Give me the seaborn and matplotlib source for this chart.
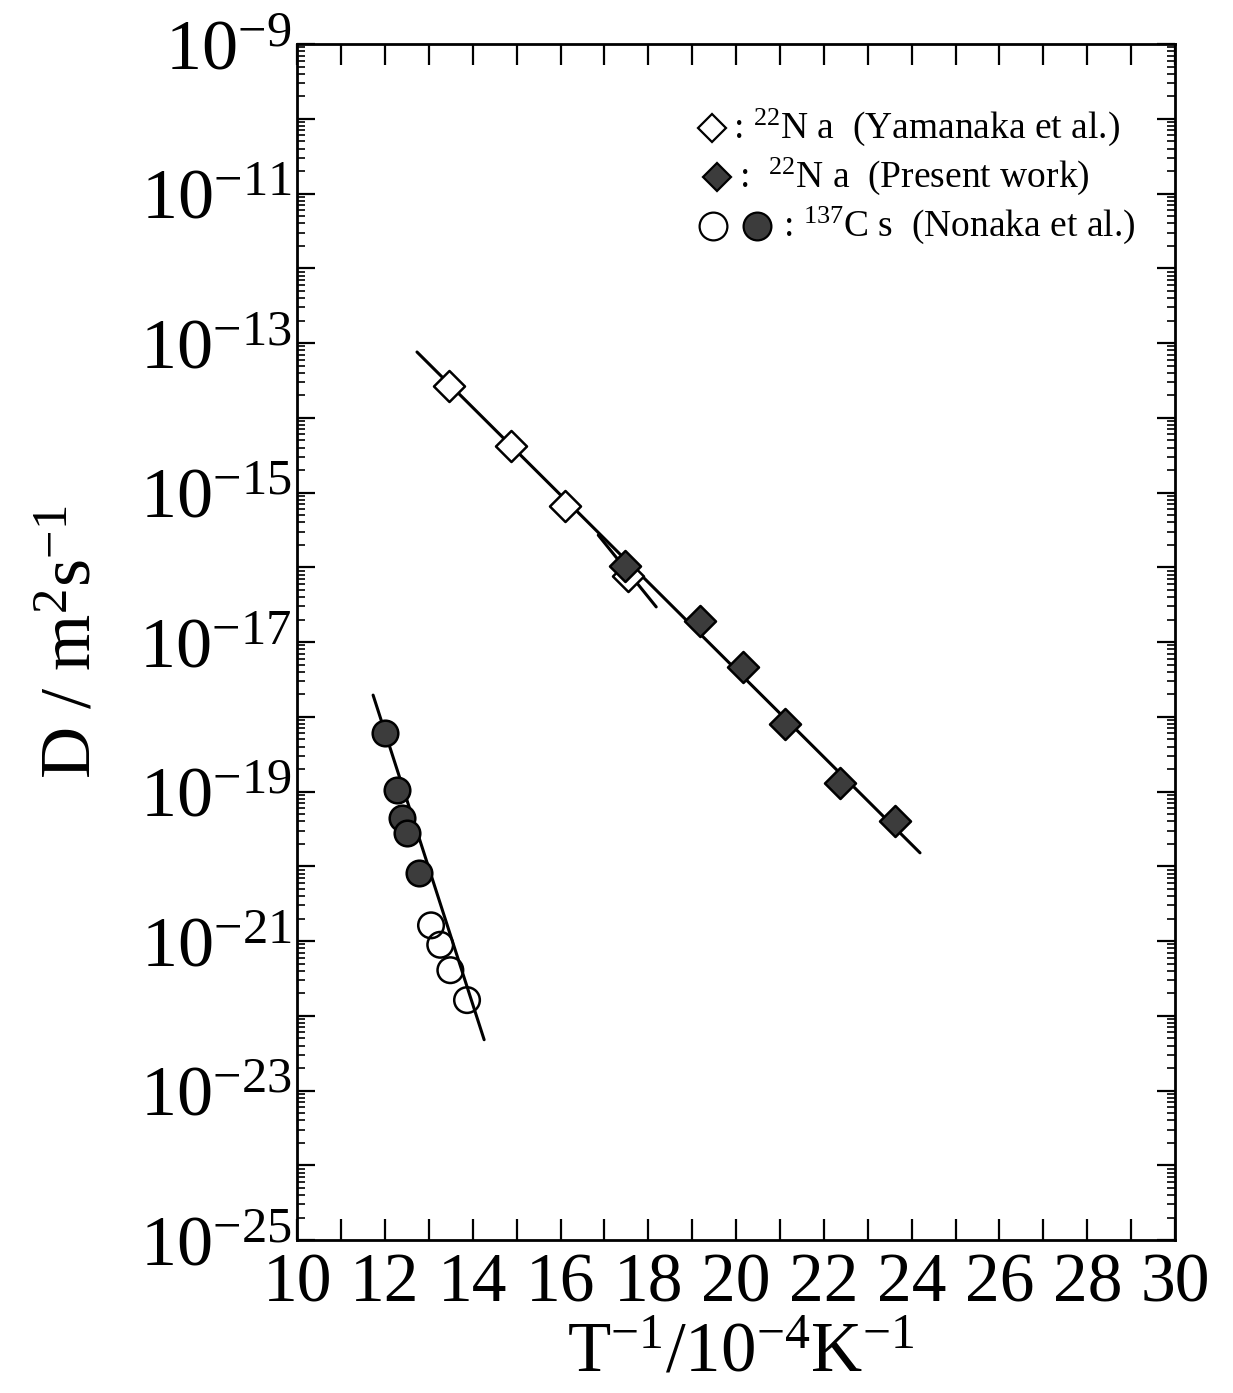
import numpy as np
import pandas as pd
import matplotlib
matplotlib.use("Agg")
import matplotlib.pyplot as plt
import seaborn as sns
from matplotlib.ticker import FixedLocator, FuncFormatter, LogLocator, NullFormatter, MultipleLocator

# ---- data ----
na_yam_x = [13.46, 14.87, 16.10, 17.54]
na_yam_logD = [-13.58, -14.38, -15.18, -16.12]
na_pres_x = [17.47, 19.18, 20.16, 21.12, 22.37, 23.62]
na_pres_logD = [-15.98, -16.72, -17.33, -18.10, -18.89, -19.39]
cs_fill_x = [12.00, 12.28, 12.39, 12.51, 12.78]
cs_fill_logD = [-18.22, -18.98, -19.35, -19.56, -20.09]
cs_open_x = [13.05, 13.26, 13.49, 13.87]
cs_open_logD = [-20.79, -21.05, -21.39, -21.79]
fit_na_x = [12.73, 24.19]
fit_na_logD = [-13.12, -19.82]
fit_na_short_x = [16.86, 18.18]
fit_na_short_logD = [-15.57, -16.53]
fit_cs_x = [11.73, 14.26]
fit_cs_logD = [-17.71, -22.32]

x_ticks = list(range(10, 31, 2))
y_decades = list(range(-25, -8))
legend_labels = [r": $^{22}$N a  (Yamanaka et al.)",
                 r":  $^{22}$N a  (Present work)",
                 r": $^{137}$C s  (Nonaka et al.)"]

sns.set_style("ticks")
plt.rcParams["font.family"] = ["Liberation Serif", "DejaVu Serif"]
plt.rcParams["mathtext.fontset"] = "custom"
plt.rcParams["mathtext.rm"] = "Liberation Serif"
plt.rcParams["mathtext.it"] = "Liberation Serif:italic"
plt.rcParams["mathtext.bf"] = "Liberation Serif:bold"
for k in ["text.color", "axes.labelcolor", "xtick.color", "ytick.color", "axes.edgecolor"]:
    plt.rcParams[k] = "black"

fig = plt.figure(figsize=(12.33, 13.93), dpi=100)
ax = fig.add_axes([0.241, 0.1098, 0.712, 0.8586])

def dfm(x, logd):
    return pd.DataFrame({"x": x, "D": np.power(10.0, np.array(logd))})

lw = 2.2
for fx, fy in [(fit_na_x, fit_na_logD), (fit_na_short_x, fit_na_short_logD), (fit_cs_x, fit_cs_logD)]:
    sns.lineplot(data=dfm(fx, fy), x="x", y="D", ax=ax, color="black", linewidth=lw,
                 legend=False, zorder=2)

fill_c = "#3c3c3c"
sns.scatterplot(data=dfm(na_yam_x, na_yam_logD), x="x", y="D", ax=ax, marker="D", s=250,
                facecolor="white", edgecolor="black", linewidth=1.8, zorder=3, legend=False)
sns.scatterplot(data=dfm(na_pres_x, na_pres_logD), x="x", y="D", ax=ax, marker="D", s=250,
                facecolor=fill_c, edgecolor="black", linewidth=1.8, zorder=4, legend=False)
sns.scatterplot(data=dfm(cs_fill_x, cs_fill_logD), x="x", y="D", ax=ax, marker="o", s=340,
                facecolor=fill_c, edgecolor="black", linewidth=1.8, zorder=4, legend=False)
sns.scatterplot(data=dfm(cs_open_x, cs_open_logD), x="x", y="D", ax=ax, marker="o", s=340,
                facecolor="none", edgecolor="black", linewidth=1.8, zorder=4, legend=False)

ax.set_yscale("log")
ax.set_xlim(10, 30)
ax.set_ylim(1e-25, 1e-9)

ax.xaxis.set_major_locator(FixedLocator(x_ticks))
ax.xaxis.set_minor_locator(MultipleLocator(1))
ax.set_xticklabels([str(t) for t in x_ticks])
ax.yaxis.set_major_locator(FixedLocator([10.0 ** e for e in y_decades]))
ax.yaxis.set_major_formatter(FuncFormatter(
    lambda v, p: (r"$10^{%d}$" % int(round(np.log10(v)))) if int(round(np.log10(v))) % 2 != 0 else ""))
ax.yaxis.set_minor_locator(LogLocator(base=10, subs=np.arange(2, 10), numticks=100))
ax.yaxis.set_minor_formatter(NullFormatter())

ax.tick_params(axis="x", which="both", direction="in", top=True, bottom=True,
               length=15, width=1.6, labelsize=50, pad=9)
ax.tick_params(axis="y", which="major", direction="in", left=True, right=True,
               length=13, width=1.6, labelsize=52, pad=4)
ax.tick_params(axis="y", which="minor", direction="in", left=True, right=True,
               length=6, width=1.2)
for sp in ax.spines.values():
    sp.set_linewidth(2.0)
    sp.set_color("black")

ax.set_xlabel(r"T$^{-1}$/10$^{-4}$K$^{-1}$", fontsize=51)
ax.xaxis.set_label_coords(0.505, -0.068)
ax.set_ylabel(r"D / m$^{2}$s$^{-1}$", fontsize=52)
ax.yaxis.set_label_coords(-0.218, 0.50)

# ---- legend (symbol key, placed in axes fractions) ----
tr = ax.transAxes
key_fs = 27
rows_y = [0.930, 0.889, 0.848]
ax.plot([0.4727], [rows_y[0]], transform=tr, marker="D", markersize=14, linestyle="none",
        markerfacecolor="white", markeredgecolor="black", markeredgewidth=1.6, clip_on=False)
ax.plot([0.4780], [rows_y[1]], transform=tr, marker="D", markersize=14, linestyle="none",
        markerfacecolor=fill_c, markeredgecolor="black", markeredgewidth=1.6, clip_on=False)
ax.plot([0.4738], [rows_y[2]], transform=tr, marker="o", markersize=20, linestyle="none",
        markerfacecolor="white", markeredgecolor="black", markeredgewidth=1.6, clip_on=False)
ax.plot([0.5240], [rows_y[2]], transform=tr, marker="o", markersize=20, linestyle="none",
        markerfacecolor=fill_c, markeredgecolor="black", markeredgewidth=1.6, clip_on=False)
for lab, yy, xx in zip(legend_labels, rows_y, [0.4960, 0.5030, 0.5535]):
    ax.text(xx, yy, lab, transform=tr, fontsize=key_fs, ha="left", va="center")

fig.savefig("out.png", dpi=100)
